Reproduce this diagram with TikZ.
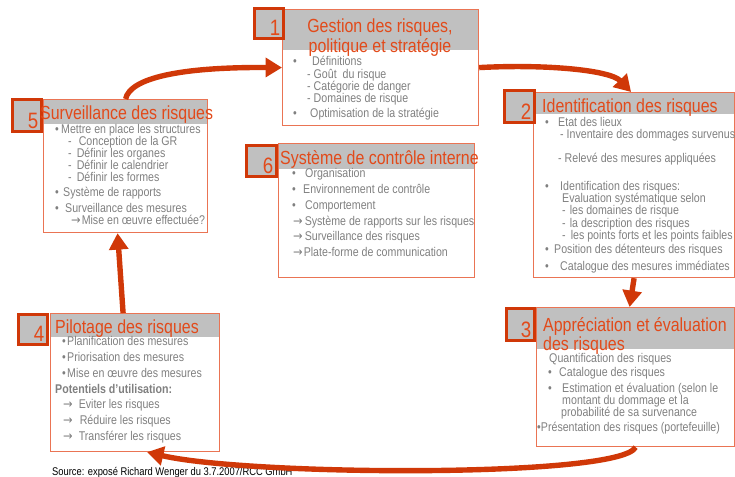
\documentclass[tikz,border=0pt]{standalone}
\usepackage{fontspec}
\setmainfont{Liberation Sans}[FakeStretch=0.84]
\newfontfamily\arrowfont{DejaVu Sans}[FakeStretch=0.9]
\usetikzlibrary{positioning,arrows.meta,calc}
\newlength{\pu}\setlength{\pu}{0.03cm}
\definecolor{rccred}{RGB}{208,56,8}
\definecolor{rcctitle}{RGB}{226,74,26}
\definecolor{rccframe}{RGB}{234,116,84}
\definecolor{rcchead}{RGB}{192,192,192}
\definecolor{rcctext}{RGB}{128,128,128}
% bullet with a fixed width behind it
\newcommand{\itm}[1]{\makebox[#1\pu][l]{•}}
% thin arrow in front of a line
\newcommand{\arr}{{\arrowfont →}}

\begin{document}
\begin{tikzpicture}
		[x=0.03cm, y=-0.03cm,
		% STYLES
		% The box style is the frame of each phase, with its grey header
		box/.style={rectangle, draw=rccframe, line width=1pt, anchor=north west, inner sep=0pt,
			path picture={\fill[rcchead] (path picture bounding box.north west) rectangle ([yshift=-#1\pu]path picture bounding box.north east);}},
		% The numbox style draws the small square with the number of the phase
		numbox/.style={rectangle, draw=rccred, fill=rcchead, line width=2.6pt, anchor=north west, inner sep=0pt},
		numtext/.style={anchor=south east, inner sep=4.5\pu, text=rcctitle, font=\fontsize{19pt}{19pt}\selectfont},
		% titles of the phases
		title/.style={text=rcctitle, inner sep=0pt, font=\fontsize{16.2pt}{13.6pt}\selectfont},
		% the body text of each phase
		body/.style={text=rcctext, inner sep=0pt, anchor=north west, align=left, font=\fontsize{10.8pt}{#1}\selectfont},
		body/.default=10.2pt,
		% the thick arrows of the cycle
		cycle/.style={draw=rccred, line width=4.6pt, -{Triangle[length=14pt,width=16pt]}},
		% small comment
		source/.style={anchor=base west, inner sep=0pt, font=\fontsize{9.5pt}{9.5pt}\selectfont}]

		\useasboundingbox (0,0) rectangle (735,476);

		% Draw boxes
		\node [box=40, minimum width=196\pu, minimum height=116\pu] (b1) at (282,9) {};
		\node [box=21, minimum width=201\pu, minimum height=185\pu] (b2) at (533,92) {};
		\node [box=41, minimum width=198\pu, minimum height=139\pu] (b3) at (536,307) {};
		\node [box=23, minimum width=169\pu, minimum height=138\pu] (b4) at (50,313) {};
		\node [box=24, minimum width=164\pu, minimum height=133\pu] (b5) at (43,99) {};
		\node [box=25, minimum width=196\pu, minimum height=134\pu] (b6) at (278,143) {};

		% Number squares
		\node [numbox, minimum width=29\pu, minimum height=30\pu] (n1) at (253,7) {};
		\node [numbox, minimum width=30\pu, minimum height=32\pu] (n2) at (503,89) {};
		\node [numbox, minimum width=28\pu, minimum height=32\pu] (n3) at (505,307) {};
		\node [numbox, minimum width=29\pu, minimum height=30\pu] (n4) at (17,313) {};
		\node [numbox, minimum width=29\pu, minimum height=32\pu] (n5) at (11,98) {};
		\node [numbox, minimum width=30\pu, minimum height=31\pu] (n6) at (245,144) {};
		\node [numtext] (d1) at (n1.south east) {1};
		\node [numtext] (d2) at (n2.south east) {2};
		\node [numtext] (d3) at (n3.south east) {3};
		\node [numtext] (d4) at (n4.south east) {4};
		\node [numtext] (d5) at (n5.south east) {5};
		\node [numtext] (d6) at (n6.south east) {6};

		% Titles
		\node [title, anchor=north, align=center, font=\fontsize{16.2pt}{14pt}\selectfont] (t1) at (380,19) {Gestion des risques,\\politique et stratégie};
		\node [title, anchor=base west] (t2) at (542,112) {Identification des risques};
		\node [title, anchor=north west, align=left] (t3) at (543,317) {Appréciation et évaluation\\des risques};
		\node [title, anchor=base west] (t4) at (55,333) {Pilotage des risques};
		\node [title, anchor=base west] (t5) at (40,119.5) {Surveillance des risques};
		\node [title, anchor=base west] (t6) at (280,164.5) {Système de contrôle interne};

		%%%%%%%%%%%%%%%
		% Body texts
		\node [body=10.63pt] (c1) at (293,56) {
			\itm{19}Définitions\\
			\hspace*{14\pu}- Goût\ \ du risque\\
			\hspace*{14\pu}- Catégorie de danger\\
			\hspace*{14\pu}- Domaines de risque\\[1.5pt]
			\itm{17}Optimisation de la stratégie
		};
		\node [body] (c2) at (545,117) {
			\itm{13}Etat des lieux\\
			\hspace*{15\pu}- Inventaire des dommages survenus\\[10.2pt]
			\hspace*{13\pu}- Relevé des mesures appliquées\\[13.6pt]
			\itm{15}Identification des risques:\\
			\hspace*{17\pu}Evaluation systématique selon\\
			\hspace*{17\pu}-\hspace{4\pu}les domaines de risque\\[1.7pt]
			\hspace*{17\pu}-\hspace{4\pu}la description des risques\\
			\hspace*{17\pu}-\hspace{5\pu}les points forts et les points faibles\\[1.7pt]
			\itm{9}Position des détenteurs des risques\\[4.3pt]
			\itm{15}Catalogue des mesures immédiates
		};
		\node [body] (c3) at (537,353) {
			\hspace*{12\pu}Quantification des risques\\[1.8pt]
			\hspace*{11\pu}\itm{11}Catalogue des risques\\[3.2pt]
			\hspace*{11\pu}\itm{14}Estimation et évaluation (selon le\\
			\hspace*{25\pu}montant du dommage et la\\
			\hspace*{24\pu}probabilité de sa survenance\\[3.2pt]
			•Présentation des risques (portefeuille)
		};
		\node [body=13.4pt] (c4) at (55,336.5) {
			\hspace*{7\pu}\itm{5}Planification des mesures\\
			\hspace*{7\pu}\itm{5}Priorisation des mesures\\
			\hspace*{7\pu}\itm{5}Mise en œuvre des mesures\\
			\textbf{Potentiels d'utilisation:}\\
			\hspace*{8\pu}\arr\hspace{6\pu}Eviter les risques\\
			\hspace*{8\pu}\arr\hspace{7\pu}Réduire les risques\\
			\hspace*{8\pu}\arr\hspace{6\pu}Transférer les risques
		};
		\node [body] (c5) at (55,124) {
			\itm{6}Mettre en place les structures\\
			\hspace*{13\pu}-\hspace{7\pu}Conception de la GR\\
			\hspace*{13\pu}-\hspace{5\pu}Définir les organes\\
			\hspace*{13\pu}-\hspace{5\pu}Définir le calendrier\\
			\hspace*{13\pu}-\hspace{5\pu}Définir les formes\\[3pt]
			\itm{8}Système de rapports\\[3pt]
			\itm{10}Surveillance des mesures\\
			\hspace*{16\pu}\arr\hspace{1\pu}Mise en œuvre effectuée?
		};
		\node [body=13.4pt] (c6) at (292,168.5) {
			\itm{13}Organisation\\
			\itm{11}Environnement de contrôle\\
			\itm{13}Comportement\\
			\hspace*{1\pu}\arr\hspace{2\pu}Système de rapports sur les risques\\
			\hspace*{1\pu}\arr\hspace{2\pu}Surveillance des risques\\
			\hspace*{1\pu}\arr\hspace{1\pu}Plate-forme de communication
		};

		\node [source] (src) at (52,475) {Source: exposé Richard Wenger du 3.7.2007/RCC GmbH};

		%%%%%%%%%%%%%%%%
		% Draw the cycle between the phases
		\draw [cycle] (b5.north) .. controls (130,78) and (180,67) .. (b1.west);
		\draw [cycle] (b1.east) .. controls (545,64) and (610,70) .. ([xshift=-3\pu]b2.north);
		\draw [cycle] (b2.south) -- ([xshift=-6\pu]b3.north);
		\draw [cycle] (b3.south) .. controls (620,478) and (250,476) .. ([xshift=12\pu]b4.south);
		\draw [cycle] ([xshift=-12\pu]b4.north) -- ([xshift=-8\pu]b5.south);
\end{tikzpicture}
\end{document}
